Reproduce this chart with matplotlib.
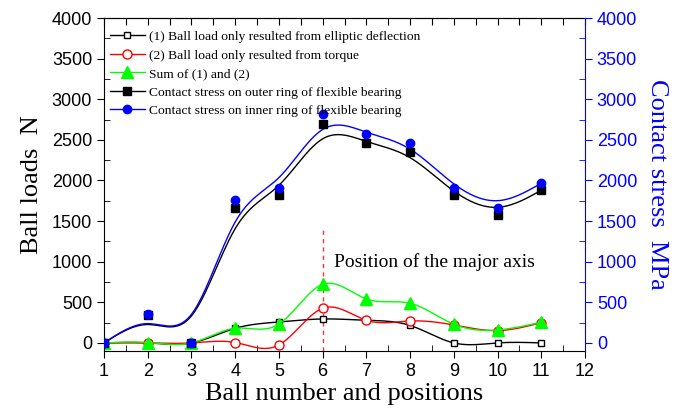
import numpy as np
import matplotlib
matplotlib.use("Agg")
import matplotlib.pyplot as plt
from matplotlib.lines import Line2D
from matplotlib.ticker import MultipleLocator

# Ball number / positions
balls = [1, 2, 3, 4, 5, 6, 7, 8, 9, 10, 11]

# Ball loads (N)
load_ellip = [0, 0, 0, 180, 258, 295, 279, 215, 0, 0, 0]
load_torque = [0, 0, 0, 5, -25, 427, 279, 270, 221, 152, 250]
load_sum = [0, 5, 0, 180, 232, 722, 541, 488, 230, 160, 255]

# Contact stress (MPa)
stress_outer = [0, 340, 0, 1655, 1822, 2699, 2458, 2351, 1822, 1579, 1879]
stress_inner = [0, 357, 0, 1756, 1908, 2822, 2572, 2458, 1908, 1658, 1966]

major_axis_pos = 6

serif = "Liberation Serif"
sans = "Liberation Sans"


def natural_spline(x, y, num=400):
    """Natural cubic spline through the points."""
    x = np.asarray(x, float)
    y = np.asarray(y, float)
    n = len(x)
    h = np.diff(x)
    A = np.zeros((n, n))
    b = np.zeros(n)
    A[0, 0] = A[-1, -1] = 1
    for i in range(1, n - 1):
        A[i, i - 1] = h[i - 1]
        A[i, i] = 2 * (h[i - 1] + h[i])
        A[i, i + 1] = h[i]
        b[i] = 6 * ((y[i + 1] - y[i]) / h[i] - (y[i] - y[i - 1]) / h[i - 1])
    m = np.linalg.solve(A, b)
    xs = np.linspace(x[0], x[-1], num)
    idx = np.clip(np.searchsorted(x, xs) - 1, 0, n - 2)
    x0, x1 = x[idx], x[idx + 1]
    hh = x1 - x0
    a = (x1 - xs) / hh
    c = (xs - x0) / hh
    ys = (a * y[idx] + c * y[idx + 1]
          + ((a ** 3 - a) * m[idx] + (c ** 3 - c) * m[idx + 1]) * hh ** 2 / 6)
    return xs, ys


def bspline(px, py, seg=40):
    """Uniform cubic B-spline with the data as control points,
    end points reflected so the curve starts/ends on the data."""
    out = []
    for p in (px, py):
        p = np.asarray(p, float)
        q = np.concatenate([[2 * p[0] - p[1]], p, [2 * p[-1] - p[-2]]])
        pts = []
        for j in range(len(p) - 1):
            t = np.linspace(0, 1, seg, endpoint=(j == len(p) - 2))
            b0 = (1 - t) ** 3 / 6
            b1 = (3 * t ** 3 - 6 * t ** 2 + 4) / 6
            b2 = (-3 * t ** 3 + 3 * t ** 2 + 3 * t + 1) / 6
            b3 = t ** 3 / 6
            pts.append(b0 * q[j] + b1 * q[j + 1] + b2 * q[j + 2] + b3 * q[j + 3])
        out.append(np.concatenate(pts))
    return out[0], out[1]


fig, ax = plt.subplots(figsize=(6.74, 4.13), dpi=100)
fig.subplots_adjust(left=0.1543, right=0.868, top=0.9564, bottom=0.150)

ax.axvline(major_axis_pos, ymin=0, ymax=(1440 + 100) / 4100, color="#ff3030",
           linestyle=(0, (3, 3)), linewidth=1)

series = [
    (load_ellip, "black", "s", "white", 5, "(1) Ball load only resulted from elliptic deflection"),
    (load_torque, "red", "o", "white", 6.5, "(2) Ball load only resulted from torque"),
    (load_sum, "#00ff00", "^", "#00ff00", 8, "Sum of (1) and (2)"),
]
handles = []
for vals, col, mk, face, ms, lab in series:
    xs, ys = natural_spline(balls, vals)
    ax.plot(xs, ys, color=col, linewidth=1)
    ax.plot(balls, vals, linestyle="none", marker=mk, markersize=ms,
            markerfacecolor=face, markeredgecolor=col, markeredgewidth=1)
    handles.append(Line2D([], [], color=col, linewidth=1, marker=mk, markersize=ms,
                          markerfacecolor=face, markeredgecolor=col, label=lab))

ax.text(6.25, 1000, "Position of the major axis", family=serif, fontsize=14,
        va="center", ha="left")

ax2 = ax.twinx()
stress = [
    (stress_outer, "black", "s", 6, "Contact stress on outer ring of flexible bearing"),
    (stress_inner, "blue", "o", 6, "Contact stress on inner ring of flexible bearing"),
]
for vals, col, mk, ms, lab in stress:
    bx, by = bspline(balls, vals)
    ax2.plot(bx, by, color=col, linewidth=1)
for vals, col, mk, ms, lab in stress:
    ax2.plot(balls, vals, linestyle="none", marker=mk, markersize=ms, color=col)
    handles.append(Line2D([], [], color=col, linewidth=1, marker=mk, markersize=ms, label=lab))

for a in (ax, ax2):
    a.set_xlim(1, 12)
    a.set_ylim(-100, 4000)
    a.yaxis.set_major_locator(MultipleLocator(500))
    a.yaxis.set_minor_locator(MultipleLocator(250))

ax.xaxis.set_major_locator(MultipleLocator(1))
ax.xaxis.set_minor_locator(MultipleLocator(0.5))
ax.tick_params(axis="both", which="major", direction="out", length=5, labelsize=13)
ax.tick_params(axis="both", which="minor", direction="in", length=4)
ax.tick_params(axis="x", top=False, which="both")
for lbl in ax.get_xticklabels() + ax.get_yticklabels():
    lbl.set_family(sans)

top = ax.secondary_xaxis("top")
top.set_xticks(np.arange(1, 12.01, 0.5))
top.tick_params(direction="in", length=5, labeltop=False)
top.set_xticklabels([])

ax2.spines["right"].set_color("blue")
ax.spines["right"].set_visible(False)
for s in ("left", "top", "bottom"):
    ax2.spines[s].set_visible(False)
ax2.tick_params(axis="y", which="major", direction="out", length=5, colors="blue", labelsize=13)
ax2.tick_params(axis="y", which="minor", direction="in", length=4, colors="blue")
for lbl in ax2.get_yticklabels():
    lbl.set_family(sans)

ax.set_xlabel("Ball number and positions", family=serif, fontsize=19, labelpad=2)
ax.set_ylabel("Ball loads  N", family=serif, fontsize=19, labelpad=6)
ax2.set_ylabel("Contact stress  MPa", family=serif, fontsize=19, color="blue",
               rotation=270, labelpad=22)

leg = ax2.legend(handles=handles, loc="upper left", bbox_to_anchor=(-0.008, 0.99),
                 frameon=False, prop={"family": serif, "size": 9.7},
                 handlelength=2.6, handletextpad=0.3, labelspacing=0.45,
                 borderaxespad=0.3)

fig.savefig("out.png", dpi=100)
